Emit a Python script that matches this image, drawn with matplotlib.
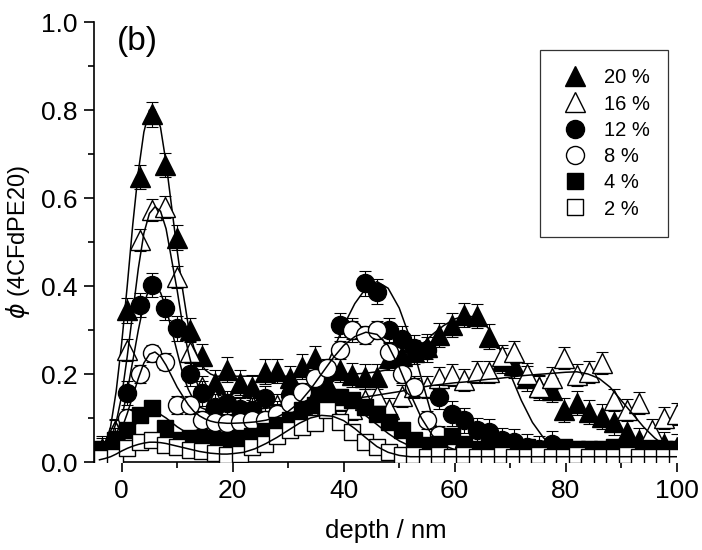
import matplotlib
matplotlib.use('Agg')
import matplotlib.pyplot as plt
from matplotlib.lines import Line2D

plt.rcParams['font.family'] = ['Liberation Sans', 'DejaVu Sans']

# depth grid of the measured profiles (nm)
depth = [-3.5, -1.25, 1.0, 3.25, 5.5, 7.75, 10.0, 12.25, 14.5, 16.75, 19.0,
         21.25, 23.5, 25.75, 28.0, 30.25, 32.5, 34.75, 37.0, 39.25, 41.5,
         43.75, 46.0, 48.25, 50.5, 52.75, 55.0, 57.25, 59.5, 61.75, 64.0,
         66.25, 68.5, 70.75, 73.0, 75.25, 77.5, 79.75, 82.0, 84.25, 86.5,
         88.75, 91.0, 93.25, 95.5, 97.75, 100.0]

phi_20 = [0.03, 0.07, 0.345, 0.648, 0.79, 0.675, 0.51, 0.30, 0.24, 0.18, 0.21,
          0.18, 0.17, 0.205, 0.207, 0.19, 0.217, 0.236, 0.18, 0.21, 0.198,
          0.194, 0.194, 0.236, 0.24, 0.25, 0.262, 0.289, 0.311, 0.334, 0.332,
          0.285, 0.23, 0.22, 0.19, 0.17, 0.164, 0.118, 0.134, 0.114, 0.103,
          0.09, 0.069, 0.05, 0.035, 0.04, 0.035]
phi_16 = [0.03, 0.07, 0.255, 0.505, 0.573, 0.58, 0.42, 0.25, 0.17, 0.14, 0.13,
          0.12, 0.13, 0.12, 0.13, 0.12, 0.13, 0.14, 0.13, 0.14, 0.12,
          0.14, 0.15, 0.12, 0.15, 0.171, 0.17, 0.19, 0.198, 0.186, 0.205,
          0.205, 0.24, 0.25, 0.2, 0.171, 0.19, 0.236, 0.198, 0.205, 0.224,
          0.141, 0.118, 0.133, 0.073, 0.099, 0.11]
phi_12 = [0.02, 0.05, 0.157, 0.357, 0.402, 0.35, 0.304, 0.2, 0.156, 0.126, 0.133,
          0.12, 0.118, 0.145, 0.11, 0.152, 0.13, 0.15, 0.2, 0.311, 0.30,
          0.406, 0.387, 0.3, 0.28, 0.26, 0.255, 0.148, 0.11, 0.095, 0.073,
          0.069, 0.05, 0.046, 0.035, 0.03, 0.042, 0.02, 0.02, 0.02, 0.02,
          0.02, 0.02, 0.02, 0.02, 0.02, 0.02]
phi_8 = [0.02, 0.05, 0.1, 0.2, 0.247, 0.228, 0.13, 0.13, 0.095, 0.09, 0.088,
         0.092, 0.095, 0.095, 0.11, 0.133, 0.16, 0.19, 0.213, 0.255, 0.3,
         0.289, 0.3, 0.25, 0.2, 0.17, 0.095, 0.061, 0.04, 0.03, 0.025,
         0.025, 0.02, 0.025, 0.02, 0.025, 0.02, 0.025, 0.02, 0.025, 0.02,
         0.025, 0.02, 0.02, 0.025, 0.02, 0.02]
phi_4 = [0.03, 0.05, 0.073, 0.107, 0.122, 0.077, 0.05, 0.055, 0.055, 0.05, 0.05,
         0.055, 0.06, 0.07, 0.084, 0.095, 0.118, 0.13, 0.148, 0.148, 0.14,
         0.126, 0.11, 0.092, 0.073, 0.05, 0.039, 0.04, 0.058, 0.04, 0.03,
         0.035, 0.03, 0.03, 0.035, 0.03, 0.03, 0.035, 0.03, 0.03, 0.03,
         0.035, 0.03, 0.03, 0.03, 0.03, 0.03]
phi_2 = [0.01, 0.012, 0.032, 0.046, 0.05, 0.039, 0.035, 0.027, 0.024, 0.02, 0.015,
         0.018, 0.035, 0.042, 0.058, 0.073, 0.08, 0.088, 0.118, 0.092, 0.069,
         0.046, 0.035, 0.023, 0.015, 0.015, 0.012, 0.015, 0.012, 0.015, 0.012,
         0.012, 0.015, 0.012, 0.012, 0.015, 0.012, 0.012, 0.015, 0.012, 0.012,
         0.012, 0.015, 0.012, 0.012, 0.012, 0.012]

# error bar half widths (one per series)
err_20, err_16, err_12, err_8, err_4, err_2 = 0.028, 0.025, 0.028, 0.02, 0.015, 0.012

# fitted profiles
fit_depth = [-4, -3, -2, -1, 0, 1, 2, 3, 4, 5, 6, 7, 8, 9, 10, 11, 12, 13, 14,
             15, 16, 17, 18, 19, 20, 22, 24, 26, 28, 30, 32, 34, 36, 38, 40,
             42, 44, 46, 48, 50, 52, 54, 56, 58, 60, 62, 64, 66, 68, 70, 72,
             74, 76, 78, 80, 82, 84, 86, 88, 90, 92, 94, 96, 98, 100]

fit_20 = [0.02, 0.04, 0.08, 0.16, 0.27, 0.40, 0.54, 0.66, 0.75, 0.80, 0.80,
          0.76, 0.68, 0.58, 0.48, 0.39, 0.31, 0.26, 0.23, 0.21, 0.20, 0.195,
          0.195, 0.195, 0.195,
          0.195, 0.195, 0.195, 0.195, 0.195, 0.196, 0.197, 0.198, 0.199, 0.2,
          0.2, 0.202, 0.205, 0.21, 0.225, 0.245, 0.265, 0.29, 0.31, 0.325,
          0.333, 0.328, 0.305, 0.26, 0.2, 0.14, 0.09, 0.055, 0.035, 0.025,
          0.02, 0.02, 0.02, 0.02, 0.02, 0.02, 0.02, 0.02, 0.02, 0.02]
fit_16 = [0.02, 0.03, 0.05, 0.09, 0.15, 0.24, 0.34, 0.44, 0.52, 0.565, 0.58,
          0.57, 0.53, 0.46, 0.39, 0.31, 0.25, 0.20, 0.165, 0.145, 0.135, 0.13,
          0.13, 0.13, 0.13,
          0.13, 0.13, 0.13, 0.13, 0.132, 0.134, 0.136, 0.138, 0.14, 0.142,
          0.145, 0.148, 0.152, 0.156, 0.16, 0.165, 0.17, 0.174, 0.177, 0.18,
          0.182, 0.185, 0.188, 0.19, 0.193, 0.196, 0.198, 0.2, 0.202, 0.204,
          0.205, 0.2, 0.19, 0.17, 0.14, 0.11, 0.08, 0.055, 0.035, 0.022]
fit_12 = [0.02, 0.025, 0.04, 0.06, 0.10, 0.16, 0.23, 0.30, 0.36, 0.395, 0.40,
          0.385, 0.35, 0.30, 0.25, 0.20, 0.165, 0.14, 0.125, 0.12, 0.118,
          0.117, 0.117, 0.117, 0.118,
          0.12, 0.12, 0.122, 0.125, 0.13, 0.14, 0.16, 0.195, 0.25, 0.31,
          0.36, 0.395, 0.41, 0.395, 0.35, 0.28, 0.19, 0.10, 0.045, 0.025,
          0.02, 0.02, 0.02, 0.02, 0.02, 0.02, 0.02, 0.02, 0.02, 0.02,
          0.02, 0.02, 0.02, 0.02, 0.02, 0.02, 0.02, 0.02, 0.02, 0.02]
fit_8 = [0.02, 0.025, 0.035, 0.05, 0.075, 0.11, 0.15, 0.19, 0.225, 0.245, 0.25,
         0.24, 0.22, 0.195, 0.17, 0.15, 0.13, 0.115, 0.105, 0.098, 0.093,
         0.09, 0.089, 0.088, 0.088,
         0.089, 0.091, 0.095, 0.102, 0.115, 0.135, 0.165, 0.2, 0.235, 0.265,
         0.285, 0.295, 0.29, 0.265, 0.215, 0.155, 0.1, 0.06, 0.038, 0.028,
         0.025, 0.025, 0.025, 0.025, 0.025, 0.025, 0.025, 0.025, 0.025, 0.025,
         0.025, 0.025, 0.025, 0.025, 0.025, 0.025, 0.025, 0.025, 0.025, 0.025]
fit_4 = [0.02, 0.025, 0.03, 0.04, 0.05, 0.065, 0.08, 0.092, 0.1, 0.108, 0.11,
         0.108, 0.1, 0.09, 0.08, 0.072, 0.065, 0.06, 0.055, 0.052, 0.05,
         0.05, 0.05, 0.051, 0.052,
         0.056, 0.062, 0.07, 0.082, 0.095, 0.11, 0.125, 0.135, 0.14, 0.138,
         0.125, 0.105, 0.085, 0.065, 0.048, 0.036, 0.03, 0.028, 0.028, 0.028,
         0.028, 0.028, 0.028, 0.028, 0.028, 0.028, 0.028, 0.028, 0.028, 0.028,
         0.028, 0.028, 0.028, 0.028, 0.028, 0.028, 0.028, 0.028, 0.028, 0.028]
fit_2 = [0.005, 0.008, 0.012, 0.018, 0.025, 0.031, 0.036, 0.04, 0.043, 0.045,
         0.045, 0.044, 0.042, 0.039, 0.036, 0.033, 0.03, 0.027, 0.024, 0.022,
         0.02, 0.019, 0.018, 0.018, 0.019,
         0.022, 0.03, 0.042, 0.056, 0.072, 0.088, 0.1, 0.106, 0.104, 0.094,
         0.076, 0.055, 0.035, 0.022, 0.015, 0.012, 0.012, 0.012, 0.012, 0.012,
         0.012, 0.012, 0.012, 0.012, 0.012, 0.012, 0.012, 0.012, 0.012, 0.012,
         0.012, 0.012, 0.012, 0.012, 0.012, 0.012, 0.012, 0.012, 0.012, 0.012]

labels = ['20 %', '16 %', '12 %', '8 %', '4 %', '2 %']
series = [(phi_20, err_20, fit_20, '^', 'k', 15),
          (phi_16, err_16, fit_16, '^', 'w', 15),
          (phi_12, err_12, fit_12, 'o', 'k', 13),
          (phi_8, err_8, fit_8, 'o', 'w', 13),
          (phi_4, err_4, fit_4, 's', 'k', 11),
          (phi_2, err_2, fit_2, 's', 'w', 11)]

fig = plt.figure(figsize=(7.02, 5.5), dpi=100)
ax = fig.add_axes([0.1338, 0.16, 0.8302, 0.80])

handles = []
z = 2
for (phi, err, fit, mk, fc, ms), lab in zip(series, labels):
    ax.errorbar(depth, phi, yerr=err, fmt='none', ecolor='k', elinewidth=0.8,
                capsize=4, capthick=0.8, zorder=z)
    ax.plot(depth, phi, linestyle='none', marker=mk, markersize=ms,
            markerfacecolor=fc, markeredgecolor='k', markeredgewidth=1.0,
            zorder=z + 0.5)
    ax.plot(fit_depth, fit, color='k', linewidth=1.1, zorder=z + 0.7)
    handles.append(Line2D([], [], linestyle='none', marker=mk,
                          markersize=ms, markerfacecolor=fc,
                          markeredgecolor='k', markeredgewidth=1.0, label=lab))
    z += 1

ax.set_xlim(-5, 100)
ax.set_ylim(0.0, 1.0)
ax.set_xticks([0, 20, 40, 60, 80, 100])
ax.set_xticks([10, 30, 50, 70, 90], minor=True)
ax.set_yticks([0.0, 0.2, 0.4, 0.6, 0.8, 1.0])
ax.set_yticks([0.1, 0.3, 0.5, 0.7, 0.9], minor=True)
ax.set_yticklabels(['0.0', '0.2', '0.4', '0.6', '0.8', '1.0'])

ax.spines['top'].set_visible(False)
ax.spines['right'].set_visible(False)
for sp in ('left', 'bottom'):
    ax.spines[sp].set_linewidth(1.2)
ax.tick_params(which='major', direction='out', length=7, width=1.2,
               labelsize=19, pad=5)
ax.tick_params(which='minor', direction='out', length=4, width=1.2)

ax.set_xlabel('depth / nm', fontsize=18.5, labelpad=12)
ax.set_ylabel(r'$\phi$ (4CFdPE20)', fontsize=17, labelpad=6)

ax.text(0.04, 0.99, '(b)', transform=ax.transAxes, fontsize=24,
        ha='left', va='top')

leg = ax.legend(handles=handles, loc='upper right',
                bbox_to_anchor=(0.985, 0.936), fontsize=14.5, frameon=True,
                fancybox=False, edgecolor='#333333', framealpha=1,
                borderpad=0.9, labelspacing=0.36, handletextpad=0.65,
                handlelength=1.6, borderaxespad=0)
leg.get_frame().set_linewidth(0.9)

fig.savefig('out.png', dpi=100)
